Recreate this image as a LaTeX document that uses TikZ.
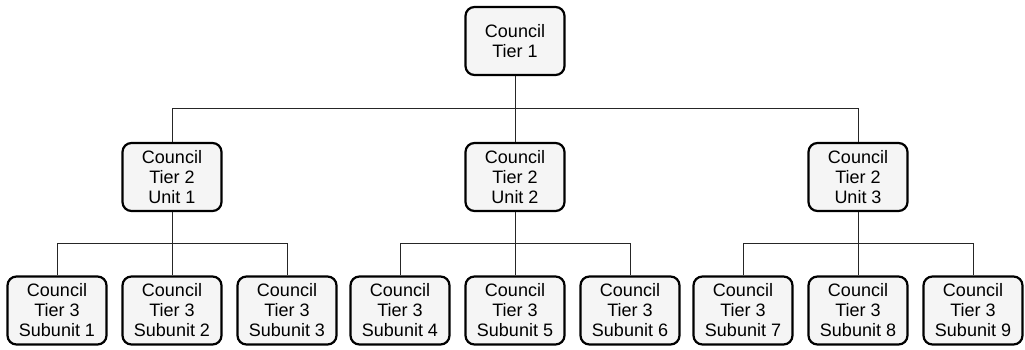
\documentclass[tikz,border=0pt]{standalone}
\usepackage{fontspec}
\setmainfont{Liberation Sans}
\begin{document}
\begin{tikzpicture}[x=1pt,y=-1pt,
  unitbox/.style={draw=black, line width=2.2pt, rounded corners=9pt, fill=gray!8,
    minimum width=99pt, minimum height=68pt, inner sep=0pt, align=center,
    font=\fontsize{18}{20}\selectfont},
  link/.style={draw=black!85, line width=0.9pt}]
\useasboundingbox (0,0) rectangle (1025,350);
% tier 1
\node[unitbox] (t1) at (515,41) {Council\\Tier 1};
% tier 2
\node[unitbox] (u1) at (172,177) {Council\\Tier 2\\Unit 1};
\node[unitbox] (u2) at (515,177) {Council\\Tier 2\\Unit 2};
\node[unitbox] (u3) at (858,177) {Council\\Tier 2\\Unit 3};
% tier 3
\foreach \i/\x in {1/57,2/172,3/287,4/400,5/515,6/630,7/743,8/858,9/973}
  \node[unitbox] (s\i) at (\x,310.5) {Council\\Tier 3\\Subunit \i};
% bus lines
\coordinate (b1) at (0,108);
\coordinate (b2) at (0,243);
\draw[link] (t1.south) -- (t1.south |- b1);
\draw[link] (u1.north) |- (u3.north |- b1) -- (u3.north);
\draw[link] (u2.north) -- (u2.north |- b1);
\foreach \p/\a/\b/\c in {u1/s1/s2/s3,u2/s4/s5/s6,u3/s7/s8/s9}{
  \draw[link] (\p.south) -- (\p.south |- b2);
  \draw[link] (\a.north) |- (\c.north |- b2) -- (\c.north);
  \draw[link] (\b.north) -- (\b.north |- b2);
}
\end{tikzpicture}
\end{document}
